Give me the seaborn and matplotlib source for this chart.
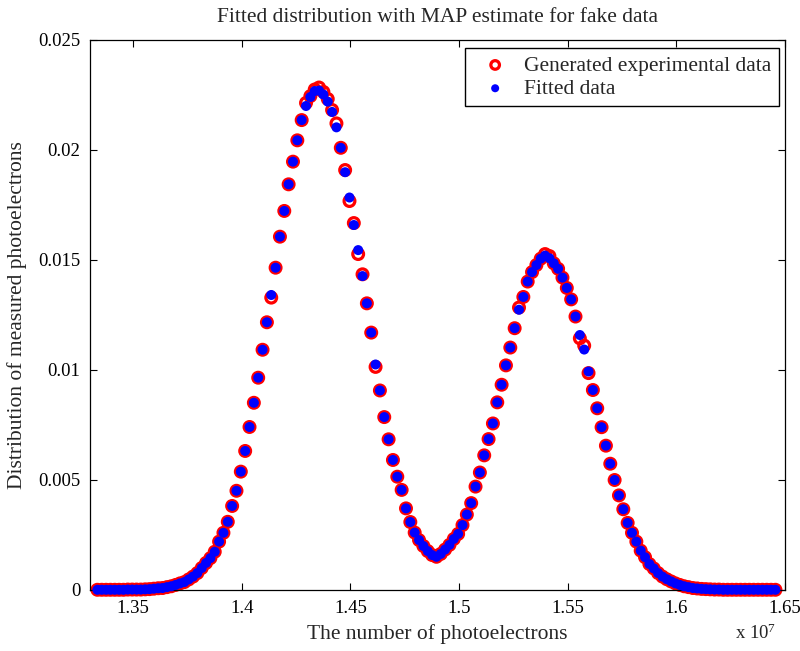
import matplotlib
matplotlib.use("Agg")
import matplotlib.pyplot as plt
import seaborn as sns
import pandas as pd
from matplotlib.ticker import FuncFormatter

# Number of photoelectrons (in units of 1e7)
photoelectrons_e7 = [
    1.3336, 1.3356, 1.3376, 1.3396, 1.3416, 1.3436, 1.3456, 1.3476, 1.3496, 1.3516,
    1.3536, 1.3556, 1.3576, 1.3596, 1.3616, 1.3636, 1.3656, 1.3676, 1.3696, 1.3716,
    1.3736, 1.3756, 1.3776, 1.3796, 1.3816, 1.3836, 1.3856, 1.3876, 1.3896, 1.3916,
    1.3936, 1.3956, 1.3976, 1.3996, 1.4016, 1.4036, 1.4056, 1.4076, 1.4096, 1.4116,
    1.4136, 1.4156, 1.4176, 1.4196, 1.4216, 1.4236, 1.4256, 1.4276, 1.4296, 1.4316,
    1.4336, 1.4356, 1.4376, 1.4396, 1.4416, 1.4436, 1.4456, 1.4476, 1.4496, 1.4516,
    1.4536, 1.4556, 1.4576, 1.4596, 1.4616, 1.4636, 1.4656, 1.4676, 1.4696, 1.4716,
    1.4736, 1.4756, 1.4776, 1.4796, 1.4816, 1.4836, 1.4856, 1.4876, 1.4896, 1.4916,
    1.4936, 1.4956, 1.4976, 1.4996, 1.5016, 1.5036, 1.5056, 1.5076, 1.5096, 1.5116,
    1.5136, 1.5156, 1.5176, 1.5196, 1.5216, 1.5236, 1.5256, 1.5276, 1.5296, 1.5316,
    1.5336, 1.5356, 1.5376, 1.5396, 1.5416, 1.5436, 1.5456, 1.5476, 1.5496, 1.5516,
    1.5536, 1.5556, 1.5576, 1.5596, 1.5616, 1.5636, 1.5656, 1.5676, 1.5696, 1.5716,
    1.5736, 1.5756, 1.5776, 1.5796, 1.5816, 1.5836, 1.5856, 1.5876, 1.5896, 1.5916,
    1.5936, 1.5956, 1.5976, 1.5996, 1.6016, 1.6036, 1.6056, 1.6076, 1.6096, 1.6116,
    1.6136, 1.6156, 1.6176, 1.6196, 1.6216, 1.6236, 1.6256, 1.6276, 1.6296, 1.6316,
    1.6336, 1.6356, 1.6376, 1.6396, 1.6416, 1.6436, 1.6456,
]

# Generated experimental distribution
generated = [
    0.00001, 0.00001, 0.00001, 0.00001, 0.00001, 0.00001, 0.00001, 0.00002, 0.00002, 0.00002,
    0.00002, 0.00003, 0.00004, 0.00006, 0.00008, 0.00009, 0.00013, 0.00017, 0.00023, 0.00030,
    0.00036, 0.00048, 0.00061, 0.00077, 0.00100, 0.00123, 0.00145, 0.00174, 0.00220, 0.00260,
    0.00310, 0.00382, 0.00451, 0.00538, 0.00632, 0.00741, 0.00851, 0.00965, 0.01092, 0.01217,
    0.01329, 0.01465, 0.01606, 0.01723, 0.01844, 0.01947, 0.02044, 0.02136, 0.02214, 0.02245,
    0.02275, 0.02284, 0.02264, 0.02232, 0.02182, 0.02121, 0.02010, 0.01909, 0.01768, 0.01668,
    0.01527, 0.01435, 0.01303, 0.01170, 0.01014, 0.00907, 0.00786, 0.00685, 0.00591, 0.00515,
    0.00455, 0.00371, 0.00309, 0.00261, 0.00227, 0.00200, 0.00177, 0.00159, 0.00151, 0.00164,
    0.00184, 0.00205, 0.00232, 0.00255, 0.00295, 0.00343, 0.00395, 0.00470, 0.00534, 0.00612,
    0.00686, 0.00757, 0.00853, 0.00933, 0.01021, 0.01102, 0.01190, 0.01284, 0.01332, 0.01402,
    0.01445, 0.01477, 0.01506, 0.01527, 0.01518, 0.01485, 0.01460, 0.01420, 0.01373, 0.01321,
    0.01243, 0.01144, 0.01111, 0.00986, 0.00909, 0.00826, 0.00740, 0.00656, 0.00574, 0.00500,
    0.00430, 0.00367, 0.00305, 0.00260, 0.00220, 0.00179, 0.00149, 0.00118, 0.00098, 0.00077,
    0.00061, 0.00049, 0.00039, 0.00030, 0.00023, 0.00017, 0.00013, 0.00009, 0.00007, 0.00005,
    0.00004, 0.00003, 0.00002, 0.00002, 0.00001, 0.00001, 0.00001, 0.00001, 0.00001, 0.00001,
    0.00001, 0.00001, 0.00001, 0.00001, 0.00001, 0.00001, 0.00001,
]

# MAP-fitted distribution
fitted = [
    0.00001, 0.00001, 0.00001, 0.00001, 0.00001, 0.00001, 0.00001, 0.00002, 0.00002, 0.00002,
    0.00002, 0.00003, 0.00004, 0.00006, 0.00008, 0.00009, 0.00013, 0.00017, 0.00023, 0.00030,
    0.00036, 0.00048, 0.00061, 0.00077, 0.00100, 0.00123, 0.00145, 0.00174, 0.00220, 0.00260,
    0.00310, 0.00382, 0.00451, 0.00538, 0.00632, 0.00741, 0.00851, 0.00965, 0.01092, 0.01217,
    0.01341, 0.01465, 0.01606, 0.01723, 0.01844, 0.01947, 0.02044, 0.02136, 0.02200, 0.02241,
    0.02268, 0.02270, 0.02252, 0.02220, 0.02173, 0.02103, 0.02010, 0.01899, 0.01784, 0.01659,
    0.01545, 0.01427, 0.01303, 0.01170, 0.01025, 0.00907, 0.00786, 0.00685, 0.00591, 0.00515,
    0.00455, 0.00371, 0.00309, 0.00261, 0.00227, 0.00200, 0.00177, 0.00159, 0.00151, 0.00164,
    0.00184, 0.00205, 0.00232, 0.00255, 0.00295, 0.00343, 0.00395, 0.00470, 0.00534, 0.00612,
    0.00686, 0.00757, 0.00853, 0.00933, 0.01021, 0.01102, 0.01190, 0.01274, 0.01332, 0.01402,
    0.01445, 0.01477, 0.01506, 0.01520, 0.01508, 0.01485, 0.01460, 0.01420, 0.01373, 0.01321,
    0.01243, 0.01159, 0.01093, 0.00993, 0.00909, 0.00826, 0.00740, 0.00656, 0.00574, 0.00500,
    0.00430, 0.00367, 0.00305, 0.00260, 0.00220, 0.00179, 0.00149, 0.00118, 0.00098, 0.00077,
    0.00061, 0.00049, 0.00039, 0.00030, 0.00023, 0.00017, 0.00013, 0.00009, 0.00007, 0.00005,
    0.00004, 0.00003, 0.00002, 0.00002, 0.00001, 0.00001, 0.00001, 0.00001, 0.00001, 0.00001,
    0.00001, 0.00001, 0.00001, 0.00001, 0.00001, 0.00001, 0.00001,
]

x_ticks = [1.35, 1.4, 1.45, 1.5, 1.55, 1.6, 1.65]
y_ticks = [0, 0.005, 0.01, 0.015, 0.02, 0.025]

sns.set_style("white")
plt.rcParams["font.family"] = ["Liberation Serif", "DejaVu Serif"]
plt.rcParams["mathtext.fontset"] = "custom"
plt.rcParams["mathtext.rm"] = "Liberation Serif"
plt.rcParams["mathtext.it"] = "Liberation Serif:italic"

df = pd.DataFrame({"x": photoelectrons_e7, "generated": generated, "fitted": fitted})

fig = plt.figure(figsize=(8, 6.51), dpi=100)
ax = fig.add_axes([90 / 800, 1 - 590 / 651, 695 / 800, 550 / 651])

sns.scatterplot(data=df, x="x", y="generated", ax=ax, marker="o", s=60,
                facecolor="none", edgecolor="red", linewidth=2.3,
                label="Generated experimental data", zorder=2, clip_on=False)
sns.scatterplot(data=df, x="x", y="fitted", ax=ax, marker="o", s=52,
                color="blue", edgecolor="none", linewidth=0,
                label="Fitted data", zorder=3, clip_on=False)

ax.set_xlim(1.3302, 1.65)
ax.set_ylim(0, 0.025)
ax.set_xticks(x_ticks)
ax.set_yticks(y_ticks)
fmt = FuncFormatter(lambda v, p: f"{v:g}")
ax.xaxis.set_major_formatter(fmt)
ax.yaxis.set_major_formatter(fmt)
ax.tick_params(direction="in", length=5, width=0.8, top=True, right=True,
               bottom=True, left=True, labelsize=13.5, pad=7, colors="black")
for sp in ax.spines.values():
    sp.set_visible(True)
    sp.set_color("black")
    sp.set_linewidth(0.9)

ax.set_title("Fitted distribution with MAP estimate for fake data", fontsize=15.5, pad=13)
ax.set_xlabel("The number of photoelectrons", fontsize=15.5, labelpad=5)
ax.set_ylabel("Distribution of measured photoelectrons", fontsize=15.5, labelpad=8)
fig.text(776 / 800, 1 - 633 / 651, r"x 10$^{7}$", ha="right", va="center", fontsize=13.5)

leg = ax.legend(loc="upper right", bbox_to_anchor=((779 - 90) / 695, (590 - 48) / 550),
                borderaxespad=0, fontsize=15.5, frameon=True, fancybox=False,
                edgecolor="black", framealpha=1, borderpad=0.35, labelspacing=0.15,
                handlelength=2.1, handletextpad=0.3, scatterpoints=1, markerscale=0.8)
leg.get_frame().set_linewidth(1.0)

fig.savefig("out.png", dpi=100)
